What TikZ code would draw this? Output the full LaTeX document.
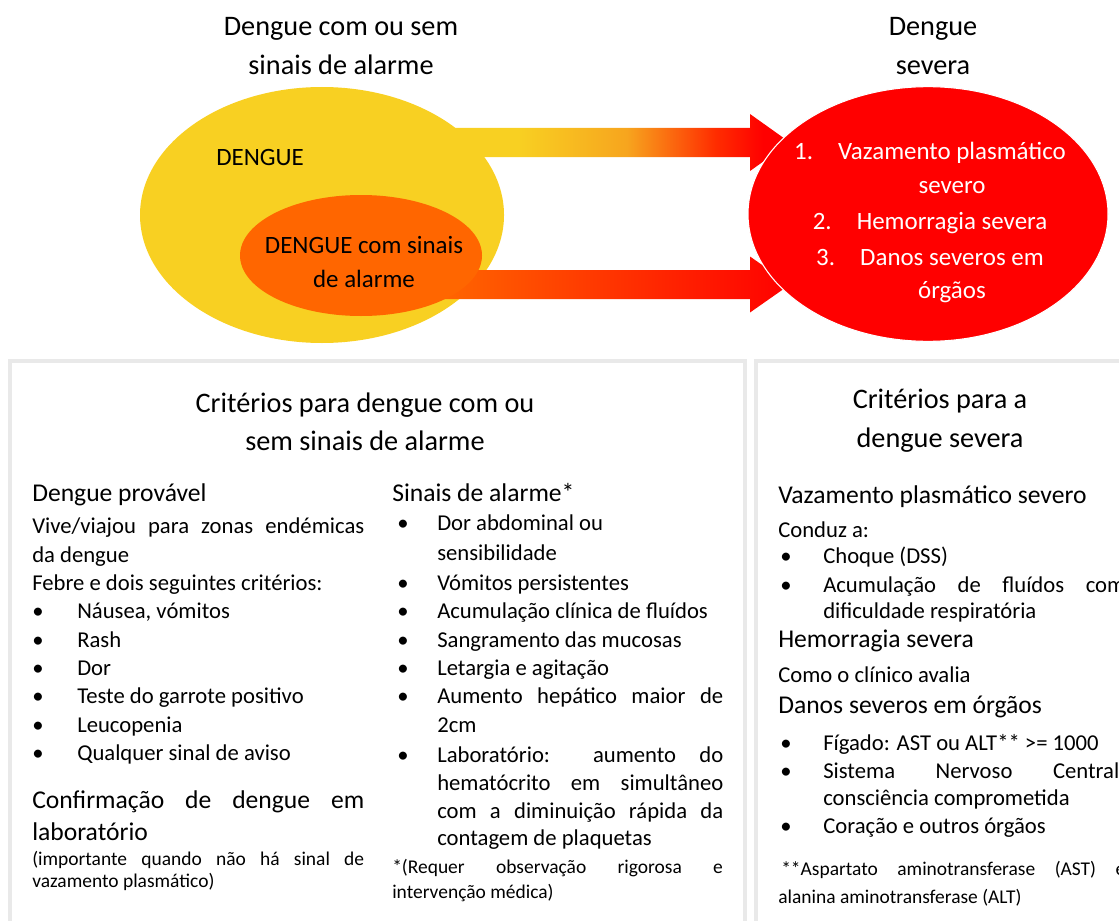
\documentclass[tikz,border=0pt]{standalone}
\usepackage{fontspec}
\setmainfont{Carlito}
\usetikzlibrary{shapes.geometric,calc}

\definecolor{amarelo}{RGB}{248,208,34}
\definecolor{laranja}{RGB}{255,102,0}
\definecolor{vermelho}{RGB}{255,0,0}
\definecolor{ambar}{RGB}{247,165,30}
\definecolor{rubro}{RGB}{255,45,0}
\definecolor{borda}{RGB}{233,233,233}

\pgfdeclarehorizontalshading{quente}{100bp}{color(0bp)=(amarelo); color(35bp)=(amarelo);
  color(51bp)=(ambar); color(64bp)=(rubro); color(71bp)=(vermelho); color(100bp)=(vermelho)}

\newcommand{\justo}[2]{\makebox[#1][s]{#2}}
\newcommand{\marca}[1][33.75pt]{\makebox[#1][l]{\textbullet}}

\begin{document}
\begin{tikzpicture}[x=0.75pt, y=-0.75pt,
  titulo/.style={anchor=base, inner sep=0pt, font=\fontsize{21.2}{25}\selectfont},
  cab/.style={anchor=base west, inner sep=0pt, font=\fontsize{19.2}{23}\selectfont},
  txt/.style={anchor=base west, inner sep=0pt, font=\fontsize{17}{20}\selectfont},
  nota/.style={anchor=base west, inner sep=0pt, font=\fontsize{14.6}{17}\selectfont},
  dentro/.style={anchor=base, inner sep=0pt, font=\fontsize{18.7}{22}\selectfont},
  bola/.style={ellipse, draw=none, inner sep=0pt},
  quadro/.style={draw=borda, line width=3pt}]
\useasboundingbox (0,0) rectangle (1119,920);
\clip (0,0) rectangle (1119,920);
% diagrama de cima
\node[titulo] (T_0_0) at (341,36) {Dengue com ou sem};
\node[titulo] (T_0_1) at (341,75) {sinais de alarme};
\node[titulo] (T_1_0) at (933,36) {Dengue};
\node[titulo] (T_1_1) at (933,75) {severa};
\coordinate (A_1_i) at (450,142.5);
\coordinate (A_1_f) at (790,142.5);
\shade[shading=quente]
  ($(A_1_i)+(0,-14.5)$) -- ($(A_1_f)+(-40,-14.5)$) -- ($(A_1_f)+(-40,-28.5)$) -- (A_1_f)
  -- ($(A_1_f)+(-40,28.5)$) -- ($(A_1_f)+(-40,14.5)$) -- ($(A_1_i)+(0,14.5)$) -- cycle;
\node[bola, fill=amarelo, minimum width=273pt, minimum height=192pt] (dengue) at (322,215) {};
\coordinate (A_2_i) at (440,284.5);
\coordinate (A_2_f) at (790,284.5);
\shade[left color=laranja, middle color=rubro, right color=vermelho]
  ($(A_2_i)+(0,-14.5)$) -- ($(A_2_f)+(-40,-14.5)$) -- ($(A_2_f)+(-40,-28)$) -- (A_2_f)
  -- ($(A_2_f)+(-40,28)$) -- ($(A_2_f)+(-40,14.5)$) -- ($(A_2_i)+(0,14.5)$) -- cycle;
\node[bola, fill=laranja, minimum width=181.5pt, minimum height=90.75pt] (alarme) at (361,255.5) {};
\node[bola, fill=vermelho, draw=white, line width=0.8pt, minimum width=270pt, minimum height=191pt] (severa) at (928,214) {};
\node[dentro, anchor=base west] (D_0) at (216,166) {DENGUE};
\node[dentro] (D_1) at (364,253) {DENGUE com sinais};
\node[dentro] (D_2) at (364,287) {de alarme};
\node[dentro, text=white] (S_1) at (930,160) {\makebox[33pt][l]{1.}Vazamento plasmático};
\node[dentro, text=white] (S_2) at (952,193) {severo};
\node[dentro, text=white] (S_3) at (930,229) {\makebox[33pt][l]{2.}Hemorragia severa};
\node[dentro, text=white] (S_4) at (930,265) {\makebox[33pt][l]{3.}Danos severos em};
\node[dentro, text=white] (S_5) at (952,298) {órgãos};
% quadros
\draw[quadro] (10,361) rectangle (745,935);
\draw[quadro] (756,361) rectangle (1135,935);
\node[titulo] (C_0_0) at (365,412) {Critérios para dengue com ou};
\node[titulo] (C_0_1) at (365,450) {sem sinais de alarme};
\node[cab] (E_0) at (32,501) {Dengue provável};
\node[txt] (E_1) at (32,533) {\justo{249pt}{Vive/viajou para zonas endémicas}};
\node[txt] (E_2) at (32,562) {da dengue};
\node[txt] (E_3) at (32,590) {Febre e dois seguintes critérios:};
\node[txt] (E_4) at (32,618) {\marca Náusea, vómitos};
\node[txt] (E_5) at (32,647) {\marca Rash};
\node[txt] (E_6) at (32,675) {\marca Dor};
\node[txt] (E_7) at (32,703) {\marca Teste do garrote positivo};
\node[txt] (E_8) at (32,732) {\marca Leucopenia};
\node[txt] (E_9) at (32,760) {\marca Qualquer sinal de aviso};
\node[cab] (E_10) at (32,808) {\justo{249pt}{Confirmação de dengue em}};
\node[cab] (E_11) at (32,840) {laboratório};
\node[nota] (E_12) at (32,865) {\justo{249pt}{(importante quando não há sinal de}};
\node[nota] (E_13) at (32,887) {vazamento plasmático)};
\node[cab] (F_0) at (392,501) {Sinais de alarme*};
\node[txt] (F_1) at (397,530) {\marca[30pt]Dor abdominal ou};
\node[txt] (F_2) at (437,560) {sensibilidade};
\node[txt] (F_3) at (397,590) {\marca[30pt]Vómitos persistentes};
\node[txt] (F_4) at (397,618) {\marca[30pt]Acumulação clínica de fluídos};
\node[txt] (F_5) at (397,647) {\marca[30pt]Sangramento das mucosas};
\node[txt] (F_6) at (397,675) {\marca[30pt]Letargia e agitação};
\node[txt] (F_7) at (397,703) {\marca[30pt]\justo{214.5pt}{Aumento hepático maior de}};
\node[txt] (F_8) at (437,732) {2cm};
\node[txt] (F_9) at (397,762) {\marca[30pt]\justo{214.5pt}{Laboratório: aumento do}};
\node[txt] (F_10) at (437,790) {\justo{214.5pt}{hematócrito em simultâneo}};
\node[txt] (F_11) at (437,818) {\justo{214.5pt}{com a diminuição rápida da}};
\node[txt] (F_12) at (437,845) {contagem de plaquetas};
\node[nota] (F_13) at (392,873) {\justo{248pt}{*(Requer observação rigorosa e}};
\node[nota] (F_14) at (392,898) {intervenção médica)};
\node[titulo] (C_1_0) at (940,408) {Critérios para a};
\node[titulo] (C_1_1) at (940,447) {dengue severa};
\node[cab] (G_0) at (778,503) {Vazamento plasmático severo};
\node[txt] (G_1) at (778,537) {Conduz a:};
\node[txt] (G_2) at (780,563) {\marca[32.25pt]Choque (DSS)};
\node[txt] (G_3) at (780,592) {\marca[32.25pt]\justo{226.5pt}{Acumulação de fluídos com}};
\node[txt] (G_4) at (823,618) {dificuldade respiratória};
\node[cab] (G_5) at (778,647) {Hemorragia severa};
\node[txt] (G_6) at (778,682) {Como o clínico avalia};
\node[cab] (G_7) at (778,713) {Danos severos em órgãos};
\node[txt] (G_8) at (780,750) {\marca[32.25pt]Fígado: AST ou ALT** >= 1000};
\node[txt] (G_9) at (780,778) {\marca[32.25pt]\justo{226.5pt}{Sistema Nervoso Central:}};
\node[txt] (G_10) at (823,805) {consciência comprometida};
\node[txt] (G_11) at (780,833) {\marca[32.25pt]Coração e outros órgãos};
\node[nota] (G_12) at (781,875) {\justo{258pt}{**Aspartato aminotransferase (AST) e}};
\node[nota] (G_13) at (778,903) {alanina aminotransferase (ALT)};
\end{tikzpicture}
\end{document}
